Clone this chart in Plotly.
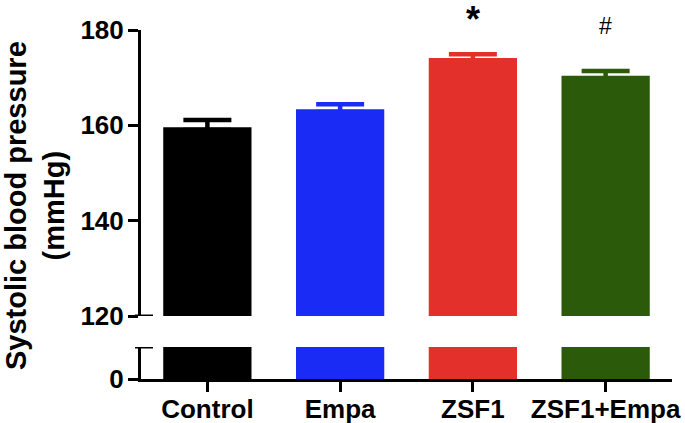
import plotly.graph_objects as go

categories = ["Control", "Empa", "ZSF1", "ZSF1+Empa"]
values = [159.6, 163.4, 174.1, 170.4]
errors = [1.5, 1.0, 0.8, 1.0]
colors = ["#000000", "#1a2bf5", "#e4302a", "#2b5a0a"]
upper_ticks = [120, 140, 160, 180]
marks = ["", "", "*", "#"]

FONT = "Arial, Liberation Sans, sans-serif"
W, H = 685, 423
ML, MR, MT, MB = 141, 13, 30, 44
plot_h = H - MT - MB
plot_w = W - ML - MR
BW = 0.665
hide = 0.6  # hides the lower cap of the error bar under the bar


def py(p):
    """paper y for a pixel row"""
    return (H - MB - p) / plot_h


def px_(p):
    """paper x for a pixel column"""
    return (p - ML) / plot_w


upper_bottom = py(316)
lower_top = py(347)

fig = go.Figure()
for cat, v, e, c in zip(categories, values, errors, colors):
    fig.add_trace(go.Bar(
        x=[cat], y=[v - hide], xaxis="x2", yaxis="y",
        marker=dict(color="rgba(0,0,0,0)", line=dict(width=0)), width=BW,
        error_y=dict(type="data", array=[e + hide], arrayminus=[0], symmetric=False,
                     thickness=4.5, width=24, color=c),
        showlegend=False, hoverinfo="skip"))
for cat, v, c in zip(categories, values, colors):
    fig.add_trace(go.Bar(x=[cat], y=[v], xaxis="x2", yaxis="y", width=BW,
                         marker=dict(color=c, line=dict(width=0)), showlegend=False))
    fig.add_trace(go.Bar(x=[cat], y=[v], xaxis="x", yaxis="y2", width=BW,
                         marker=dict(color=c, line=dict(width=0)), showlegend=False))

axis_common = dict(showline=True, linecolor="black", linewidth=3, ticks="outside",
                   ticklen=10, tickwidth=3, tickcolor="black", showgrid=False, zeroline=False,
                   automargin=False,
                   tickfont=dict(family=FONT, size=26, color="black", weight="bold"))

fig.update_layout(
    width=W, height=H, margin=dict(l=ML, r=MR, t=MT, b=MB, autoexpand=False),
    plot_bgcolor="white", paper_bgcolor="white", barmode="overlay",
    xaxis=dict(domain=[0, 1], anchor="y2", range=[-0.5, 3.5], categoryorder="array",
               categoryarray=categories, ticklabelstandoff=-5, **axis_common),
    xaxis2=dict(domain=[0, 1], anchor="y", range=[-0.5, 3.5], categoryorder="array",
                categoryarray=categories, matches="x", visible=False),
    yaxis=dict(domain=[upper_bottom, 1], anchor="x2", range=[120, 180], tickvals=upper_ticks,
               ticklabelstandoff=-1, **axis_common),
    yaxis2=dict(domain=[0, lower_top], anchor="x", range=[0, 10], tickvals=[0],
                ticklabelstandoff=-1, **axis_common),
)

# axis-break marks
fig.add_shape(type="line", xref="paper", yref="y", x0=px_(135), x1=px_(153), y0=120, y1=120,
              line=dict(color="black", width=3))
fig.add_shape(type="line", xref="paper", yref="y2", x0=px_(135), x1=px_(153), y0=10, y1=10,
              line=dict(color="black", width=3))

# significance marks
for cat, m in zip(categories, marks):
    if m == "*":
        fig.add_annotation(x=cat, xref="x2", yref="paper", y=py(-3),
                           text=m, showarrow=False, yanchor="top",
                           font=dict(family=FONT, size=36, color="black", weight="bold"))
    elif m == "#":
        fig.add_annotation(x=cat, xref="x2", yref="paper", y=py(11),
                           text=m, showarrow=False, yanchor="top",
                           font=dict(family=FONT, size=23, color="black"))

fig.add_annotation(text="Systolic blood pressure<br>(mmHg)", textangle=-90,
                   xref="paper", yref="paper", x=px_(35), y=py(206),
                   xanchor="center", yanchor="middle", showarrow=False,
                   font=dict(family=FONT, size=29, color="black", weight="bold"))

fig.write_html("out.html", config={"displayModeBar": False},
               post_script="document.body.style.margin='0';")
